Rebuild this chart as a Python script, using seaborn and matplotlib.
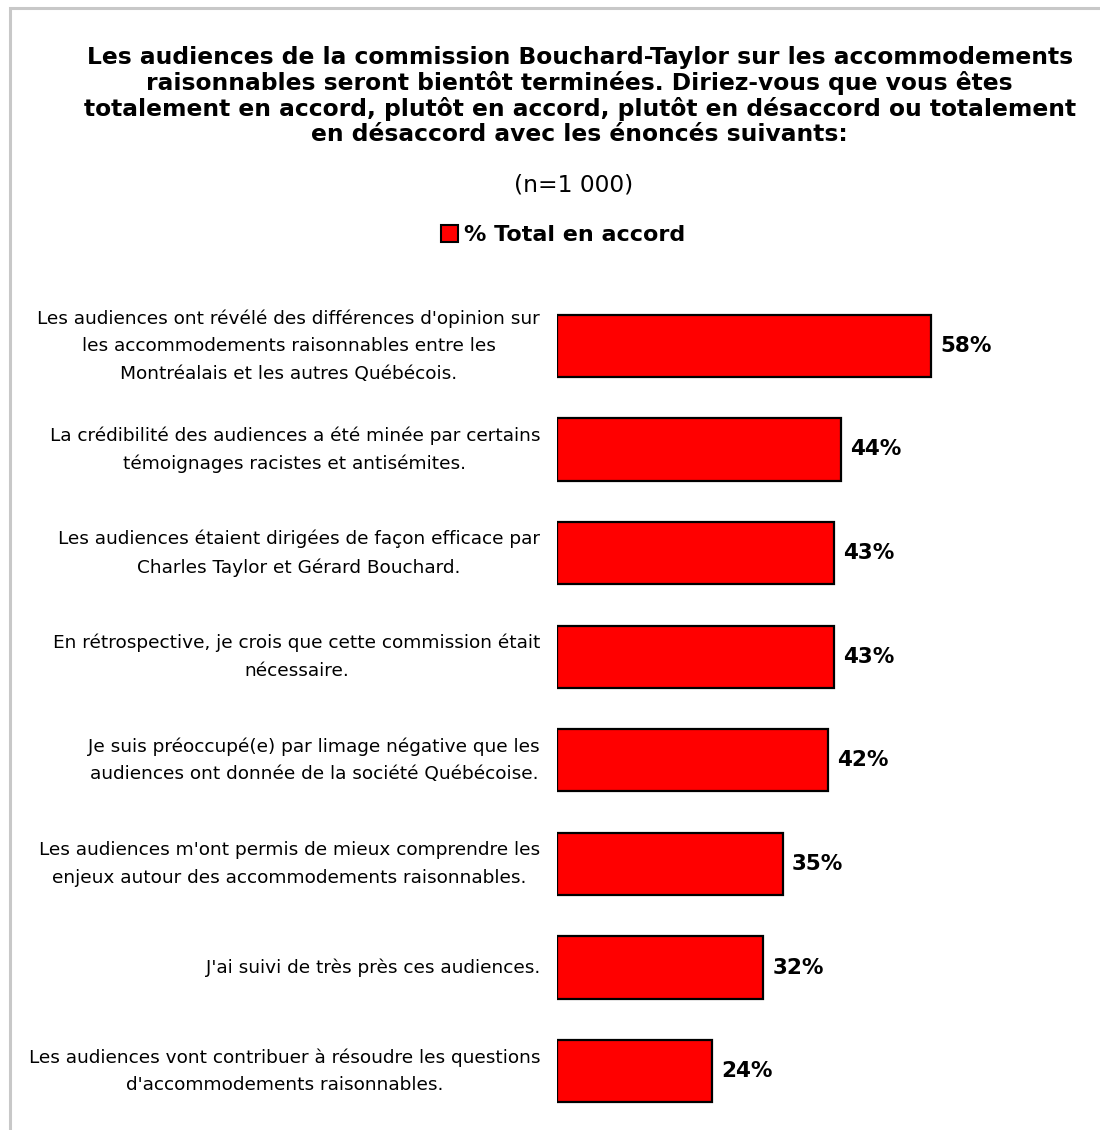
import matplotlib
matplotlib.use("Agg")
import matplotlib.pyplot as plt
import seaborn as sns
import pandas as pd
from matplotlib.patches import Patch, Rectangle

categories = [
    "Les audiences ont révélé des différences d'opinion sur\nles accommodements raisonnables entre les\nMontréalais et les autres Québécois.",
    "La crédibilité des audiences a été minée par certains\ntémoignages racistes et antisémites.",
    "Les audiences étaient dirigées de façon efficace par\nCharles Taylor et Gérard Bouchard.",
    "En rétrospective, je crois que cette commission était\nnécessaire.",
    "Je suis préoccupé(e) par limage négative que les\naudiences ont donnée de la société Québécoise.",
    "Les audiences m'ont permis de mieux comprendre les\nenjeux autour des accommodements raisonnables.",
    "J'ai suivi de très près ces audiences.",
    "Les audiences vont contribuer à résoudre les questions\nd'accommodements raisonnables.",
]
values = [58, 44, 43, 43, 42, 35, 32, 24]
value_labels = ["58%", "44%", "43%", "43%", "42%", "35%", "32%", "24%"]
series_name = "% Total en accord"
title = ("Les audiences de la commission Bouchard-Taylor sur les accommodements\n"
         "raisonnables seront bientôt terminées. Diriez-vous que vous êtes\n"
         "totalement en accord, plutôt en accord, plutôt en désaccord ou totalement\n"
         "en désaccord avec les énoncés suivants:")
subtitle = "(n=1 000)"

sns.set_theme(style="white")
plt.rcParams['font.family'] = ['DejaVu Sans']
plt.rcParams['text.color'] = 'black'
plt.rcParams['ytick.labelcolor'] = 'black'
plt.rcParams['ytick.color'] = 'black'

df = pd.DataFrame({"cat": categories, "val": values})

fig = plt.figure(figsize=(11, 11.3), dpi=100)
ax = fig.add_axes([0.5064, 0.0062, 0.469, 0.7336])
sns.barplot(data=df, x="val", y="cat", orient="h", color="#ff0000",
            edgecolor="black", linewidth=1.6, width=0.6, saturation=1, ax=ax)
ax.set_xlim(0, 80)
ax.set_ylim(7.5, -0.5)
ax.set_xlabel("")
ax.set_ylabel("")
ax.set_xticks([])
for s in ax.spines.values():
    s.set_visible(False)
ax.tick_params(axis="y", length=0, pad=12.2, labelsize=13.3, labelcolor="black")
for lab in ax.get_yticklabels():
    lab.set_multialignment("center")
    lab.set_linespacing(1.68)
    lab.set_verticalalignment("center")

for i, (v, t) in enumerate(zip(values, value_labels)):
    ax.annotate(t, (v, i), xytext=(6.5, 0), textcoords="offset points",
                ha="left", va="center", fontsize=15.5, fontweight="bold", color="black")

fig.text(0.527, 1 - 96/1130, title, ha="center", va="center", fontsize=16.8,
         fontweight="bold", linespacing=1.12, color="black")
fig.text(0.5218, 1 - 185/1130, subtitle, ha="center", va="center", fontsize=16.8,
         color="black")

handle = Patch(facecolor="#ff0000", edgecolor="black", linewidth=1.5)
fig.legend([handle], [series_name], loc="center", bbox_to_anchor=(0.512, 1 - 235/1130),
           frameon=False, prop={"weight": "bold", "size": 16},
           handlelength=0.77, handleheight=0.77, handletextpad=0.27,
           labelcolor="black")

fig.patches.append(Rectangle((10/1100, -0.1), 1.2, 1.1 - 8/1130, transform=fig.transFigure,
                             fill=False, edgecolor="#c8c8c8", linewidth=2.2))

fig.savefig("out.png", dpi=100)
